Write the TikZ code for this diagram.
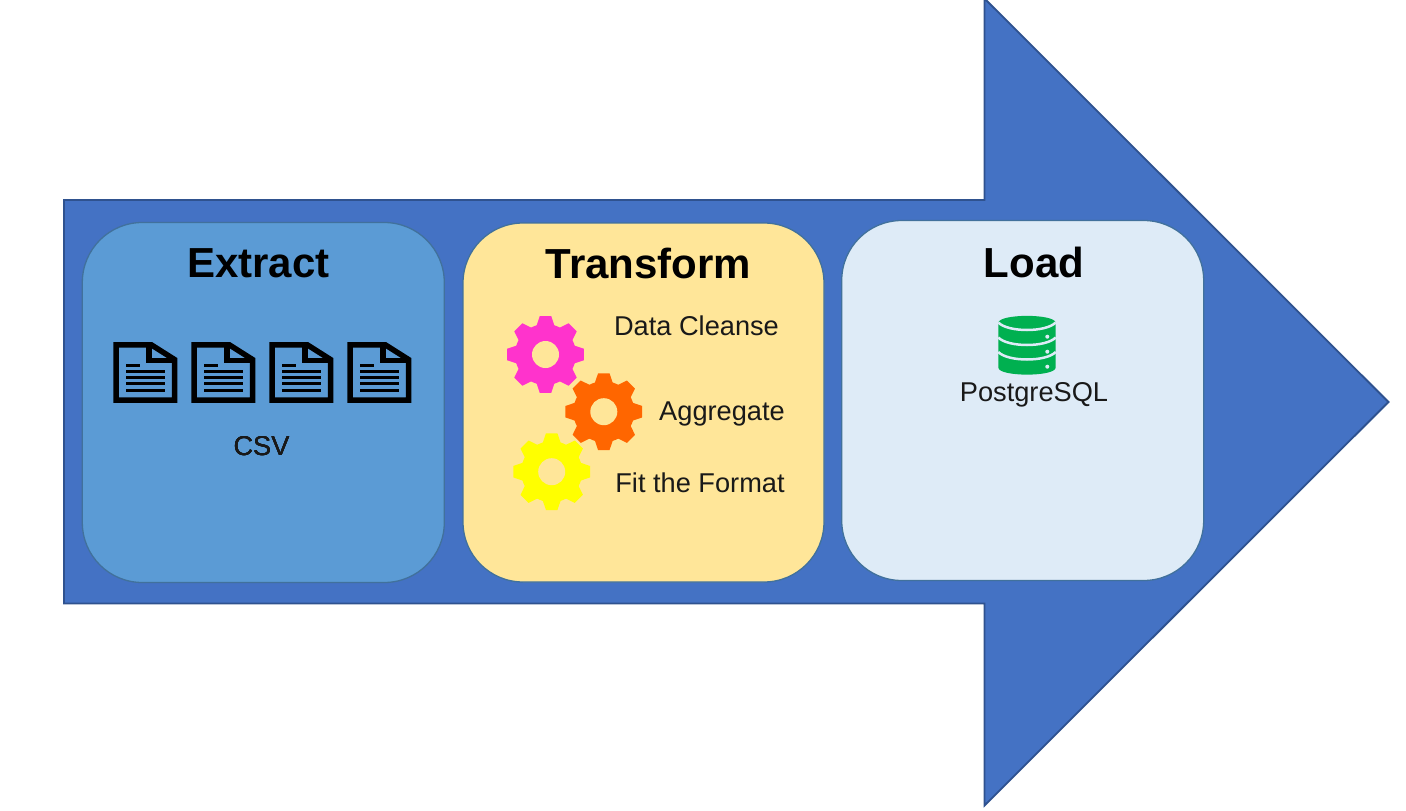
\documentclass[tikz,border=0pt]{standalone}
\usepackage{fontspec}
\setmainfont{Liberation Sans}
\usepackage{xcolor}
\definecolor{arrowblue}{HTML}{4472C4}
\definecolor{arrowedge}{HTML}{2F528F}
\definecolor{extractfill}{HTML}{5B9BD5}
\definecolor{extractedge}{HTML}{41719C}
\definecolor{transformfill}{HTML}{FFE699}
\definecolor{loadfill}{HTML}{DEEBF7}
\definecolor{dbgreen}{HTML}{00B050}
\definecolor{gearpink}{HTML}{FF33CC}
\definecolor{gearorange}{HTML}{FF6600}
\definecolor{gearyellow}{HTML}{FFFF00}
\tikzset{
  panel/.style={draw=extractedge, line width=1.3pt, rounded corners=60pt, inner sep=0pt, minimum width=362pt, minimum height=360pt},
  heading/.style={font=\bfseries\fontsize{42}{48}\selectfont, text=black, inner sep=0pt},
  label/.style={font=\fontsize{27.2}{32}\selectfont, text=black!90, inner sep=0pt}
}
% one gear: x, y, colour, colour seen through the hole
\newcommand{\drawgear}[4]{
  \begin{scope}[shift={(#1,#2)}]
    \fill[#3] (0,0) circle (30.5pt);
    \foreach \a in {0,45,...,315}
      \fill[#3] (\a-8.5:38.8) -- (\a+8.5:38.8) -- (\a+19:29) -- (\a-19:29) -- cycle;
    \fill[#4] (0,0) circle (13.5pt);
  \end{scope}
}
% one document icon, x is its left edge
\newcommand{\drawdoc}[1]{
  \begin{scope}[shift={(#1,0)}]
    \draw[line width=5.5pt, miter limit=10] (2.8,344.8) -- (38,344.8) -- (61.2,359.5) -- (61.2,400) -- (2.8,400) -- cycle;
    \draw[line width=5.5pt] (35.5,345) -- (35.5,360.5) -- (61,360.5);
    \draw[line width=3pt] (13,365.7) -- (26.5,365.7);
    \foreach \y in {371.7,377.7,383.7,390}
      \draw[line width=3pt] (13,\y) -- (52,\y);
  \end{scope}
}
\begin{document}
\begin{tikzpicture}[x=1pt,y=-1pt]
  \useasboundingbox (0,0) rectangle (1406,811);

  \draw[draw=arrowedge, fill=arrowblue, line width=1.8pt, miter limit=10]
    (64,200) -- (984.5,200) -- (984.5,-1.5) -- (1388.5,402) -- (984.5,805.5) -- (984.5,603.5) -- (64,603.5) -- cycle;

  \node[panel, fill=extractfill] (extract) at (263.3,402.5) {};
  \node[panel, fill=transformfill, minimum width=361pt, minimum height=359pt] (transform) at (643.5,402.5) {};
  \node[panel, fill=loadfill] (load) at (1022.7,400.5) {};

  \node[heading] (extracttitle) at (258.5,263.5) {Extract};
  \node[heading] (transformtitle) at (648.5,263.5) {Transform};
  \node[heading] (loadtitle) at (1034,262.5) {Load};

  % csv files
  \foreach \x in {113.3,191.3,269.3,347.3}
    \drawdoc{\x}
  \node[label] (csv) at (261.5,446) {CSV};

  % gears
  \drawgear{545.5}{354.5}{gearpink}{transformfill}
  \drawgear{603.8}{411.7}{gearorange}{transformfill}
  \drawgear{551.7}{471.7}{gearyellow}{transformfill}
  \node[label] (cleanse) at (696.5,326) {Data Cleanse};
  \node[label] (aggregate) at (722,414) {Aggregate};
  \node[label] (format) at (700,483) {Fit the Format};

  % database
  \fill[dbgreen] (998.3,323) -- (998.3,367.5) .. controls (998.3,377) and (1055.7,377) .. (1055.7,367.5) -- (1055.7,323) .. controls (1055.7,313.5) and (998.3,313.5) .. (998.3,323) -- cycle;
  \foreach \y in {322.5,337.5,352}
    \draw[loadfill, line width=2.5pt] (998.3,\y) .. controls (1008,\y+10) and (1046,\y+10) .. (1055.7,\y);
  \foreach \y in {336.7,351.7,366.7}
    \fill[loadfill] (1047.3,\y) circle (2pt);
  \node[label] (postgres) at (1034,394.5) {PostgreSQL};
\end{tikzpicture}
\end{document}
